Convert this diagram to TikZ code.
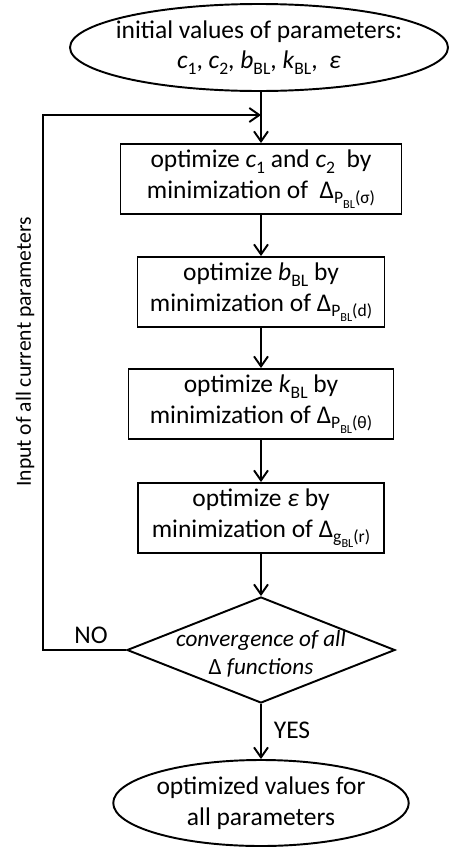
\documentclass[tikz,border=0pt]{standalone}
\usepackage{fontspec}
\setmainfont{Carlito}
\usetikzlibrary{positioning,shapes.geometric,arrows.meta}
\newcommand{\lowA}[1]{\raisebox{-0.45ex}{\fontsize{10}{10}\selectfont #1}}
\newcommand{\lowB}[1]{\raisebox{-0.5ex}{\fontsize{7}{7}\selectfont #1}}

\begin{document}
\begin{tikzpicture}[line width=1.1pt,
terminal/.style={ellipse, draw, align=center, inner sep=0pt},
process/.style={rectangle, draw, align=center, inner sep=1pt, minimum height=1.4cm},
decision/.style={diamond, draw, inner sep=0pt, minimum width=5.36cm, minimum height=2.12cm},
flow/.style={-{Straight Barb[length=2mm,width=2.8mm]}},
font=\fontsize{14.5}{17.5}\selectfont
]
    \useasboundingbox (0,0) rectangle (8.98,-16.94);
    \node[terminal, inner xsep=-0.22cm, minimum width=7.56cm, minimum height=1.74cm] (init) at (5.18,-0.95) {initial values of parameters:\\ \textit{c}\lowA{1}, \textit{c}\lowA{2}, \textit{b}\lowA{BL}, \textit{k}\lowA{BL},\ \ \textit{ε}};
    \node[process, minimum width=5.62cm] (opt1) at (5.22,-3.58) {optimize \textit{c}\lowA{1} and \textit{c}\lowA{2}\ \ by\\ minimization of\ \ Δ\lowA{P\lowB{BL}(σ)}};
    \node[process, minimum width=4.94cm] (opt2) at (5.22,-5.84) {optimize \textit{b}\lowA{BL} by\\ minimization of Δ\lowA{P\lowB{BL}(d)}};
    \node[process, minimum width=5.3cm] (opt3) at (5.22,-8.08) {optimize \textit{k}\lowA{BL} by\\ minimization of Δ\lowA{P\lowB{BL}(θ)}};
    \node[process, minimum width=4.92cm] (opt4) at (5.22,-10.36) {optimize \textit{ε} by\\ minimization of Δ\lowA{g\lowB{BL}(r)}};
    \node[decision] (conv) at (5.22,-13.0) {};
    \node[align=center, font=\fontsize{13.2}{16}\selectfont\itshape] (convtxt) at (5.22,-13.08) {convergence of all\\ {\upshape Δ} functions};
    \node[terminal, minimum width=5.14cm, minimum height=1.72cm] (final) at (5.22,-16.06) {optimized values for\\ all parameters};
    \coordinate (join) at (5.22,-2.3);
    \coordinate (back) at (0.86,-13.0);
    \node (no) at (1.82,-12.7) {NO};
    \node (yes) at (5.84,-14.6) {YES};
    \node[rotate=90, font=\fontsize{12.3}{14}\selectfont] (input) at (0.5,-7.04) {Input of all current parameters};
    \draw[flow] (init.south -| join) -- (opt1);
    \draw[flow] (opt1) -- (opt2);
    \draw[flow] (opt2) -- (opt3);
    \draw[flow] (opt3) -- (opt4);
    \draw[flow] (opt4) -- (conv);
    \draw[flow] (conv) -- (final);
    \draw[flow] (conv.west) -- (back) |- (join);
\end{tikzpicture}
\end{document}
